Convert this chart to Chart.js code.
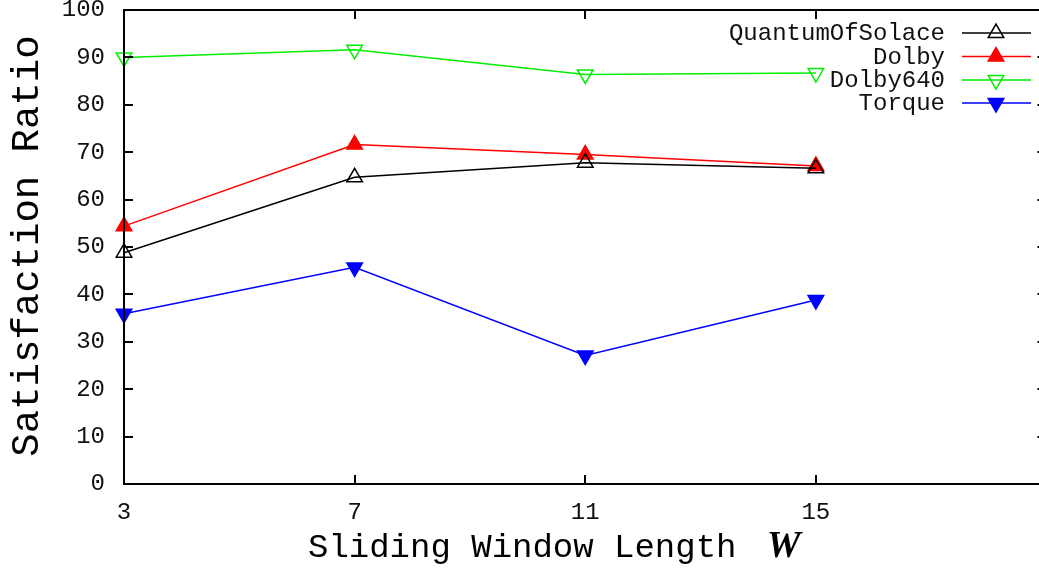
<!DOCTYPE html>
<html>
<head>
<meta charset="utf-8">
<script src="https://cdn.jsdelivr.net/npm/chart.js@4/dist/chart.umd.min.js"></script>
<style>
  html, body { margin: 0; padding: 0; background: #fff; overflow: hidden; }
</style>
</head>
<body>
<canvas id="chart" width="1039" height="568"></canvas>
<script>
// Datos
const windowLengths = [3, 7, 11, 15];
const quantumOfSolace = [48.8, 64.7, 67.8, 66.6];
const dolby = [54.4, 71.6, 69.5, 67.1];
const dolby640 = [90.0, 91.6, 86.4, 86.7];
const torque = [35.9, 45.7, 27.1, 38.8];

const xTicks = [3, 7, 11, 15];
const yTicks = [0, 10, 20, 30, 40, 50, 60, 70, 80, 90, 100];
// el eje x llega hasta 19, pero la imagen original está recortada justo antes
const xFrameMax = 19;
const xVisibleMax = 18.87;

const mono = "'Liberation Mono', 'DejaVu Sans Mono', monospace";

function toPoints(values) {
    return windowLengths.map((w, i) => ({ x: w, y: values[i] }));
}

const seriesDefs = [
    { label: "QuantumOfSolace", values: quantumOfSolace, color: "#000000", filled: false, rotation: 0 },
    { label: "Dolby", values: dolby, color: "#ff0000", filled: true, rotation: 0 },
    { label: "Dolby640", values: dolby640, color: "#00ee00", filled: false, rotation: 180 },
    { label: "Torque", values: torque, color: "#0000ff", filled: true, rotation: 180 },
];

const datasets = seriesDefs.map((s) => ({
    label: s.label,
    data: toPoints(s.values),
    borderColor: s.color,
    backgroundColor: s.filled ? s.color : "rgba(0,0,0,0)",
    pointBorderColor: s.color,
    pointBackgroundColor: s.filled ? s.color : "rgba(0,0,0,0)",
    pointStyle: "triangle",
    pointRotation: s.rotation,
    pointRadius: 9,
    pointBorderWidth: 1.5,
    borderWidth: 1.5,
    tension: 0,
    clip: false,
}));

// Marco, marcas internas, leyenda y títulos al estilo gnuplot
const gnuplotFrame = {
    id: "gnuplotFrame",
    afterDatasetsDraw(chart) {
        const ctx = chart.ctx;
        const area = chart.chartArea;
        const xs = chart.scales.x;
        const ys = chart.scales.y;
        const tick = 9;
        const right = xs.getPixelForValue(xFrameMax);

        ctx.save();
        ctx.strokeStyle = "#000";
        ctx.lineWidth = 2;
        ctx.strokeRect(area.left, area.top, right - area.left, area.bottom - area.top);

        ctx.beginPath();
        xTicks.concat([xFrameMax]).forEach((v) => {
            const px = Math.round(xs.getPixelForValue(v));
            ctx.moveTo(px, area.bottom);
            ctx.lineTo(px, area.bottom - tick);
            ctx.moveTo(px, area.top);
            ctx.lineTo(px, area.top + tick);
        });
        yTicks.forEach((v) => {
            const py = Math.round(ys.getPixelForValue(v));
            ctx.moveTo(area.left, py);
            ctx.lineTo(area.left + tick, py);
            ctx.moveTo(right, py);
            ctx.lineTo(right - tick, py);
        });
        ctx.stroke();

        // Leyenda
        const rowsY = [33, 56.5, 80, 103];
        ctx.font = "24px " + mono;
        ctx.textAlign = "right";
        ctx.textBaseline = "middle";
        seriesDefs.forEach((s, i) => {
            const y = rowsY[i];
            ctx.fillStyle = "#111";
            ctx.fillText(s.label, 945, y + 1);
            ctx.strokeStyle = s.color;
            ctx.lineWidth = 1.5;
            ctx.beginPath();
            ctx.moveTo(962, y);
            ctx.lineTo(1031, y);
            ctx.stroke();
            ctx.fillStyle = s.filled ? s.color : "rgba(0,0,0,0)";
            ctx.strokeStyle = s.color;
            Chart.helpers.drawPoint(ctx, {
                pointStyle: "triangle",
                rotation: s.rotation,
                radius: 9,
                borderWidth: 1.5,
            }, 996, y);
        });
        ctx.restore();

        // Títulos de los ejes
        ctx.save();
        ctx.fillStyle = "#000";
        ctx.font = "34px " + mono;
        ctx.textAlign = "left";
        ctx.textBaseline = "alphabetic";
        const xTitle = "Sliding Window Length ";
        ctx.fillText(xTitle, 308, 557);
        const w = ctx.measureText(xTitle).width;
        ctx.font = "italic bold 38px 'Liberation Serif', 'DejaVu Serif', serif";
        ctx.fillText("W", 308 + w + 10, 557);

        ctx.translate(38, 246);
        ctx.rotate(-Math.PI / 2);
        ctx.font = "39px " + mono;
        ctx.textAlign = "center";
        ctx.fillText("Satisfaction Ratio", 0, 0);
        ctx.restore();
    },
};

const ctx = document.getElementById("chart").getContext("2d");
new Chart(ctx, {
    type: "line",
    data: { datasets: datasets },
    options: {
        responsive: false,
        animation: false,
        layout: {
            autoPadding: false,
            padding: { top: 10, right: 0, left: 0, bottom: 0 },
        },
        plugins: {
            legend: { display: false },
            tooltip: { enabled: false },
        },
        scales: {
            x: {
                type: "linear",
                min: 3,
                max: xVisibleMax,
                afterBuildTicks: (scale) => {
                    scale.ticks = xTicks.map((v) => ({ value: v }));
                },
                afterFit: (scale) => {
                    scale.height = 84;
                    scale.paddingLeft = 0;
                    scale.paddingRight = 0;
                },
                grid: { display: false },
                border: { display: false },
                ticks: {
                    padding: 6,
                    color: "#111",
                    font: { family: mono, size: 24 },
                    maxRotation: 0,
                    autoSkip: false,
                },
            },
            y: {
                min: 0,
                max: 100,
                afterBuildTicks: (scale) => {
                    scale.ticks = yTicks.map((v) => ({ value: v }));
                },
                afterFit: (scale) => {
                    scale.width = 124;
                    scale.paddingTop = 0;
                    scale.paddingBottom = 0;
                },
                grid: { display: false },
                border: { display: false },
                ticks: {
                    padding: 11,
                    color: "#111",
                    font: { family: mono, size: 24 },
                },
            },
        },
    },
    plugins: [gnuplotFrame],
});
</script>
</body>
</html>
